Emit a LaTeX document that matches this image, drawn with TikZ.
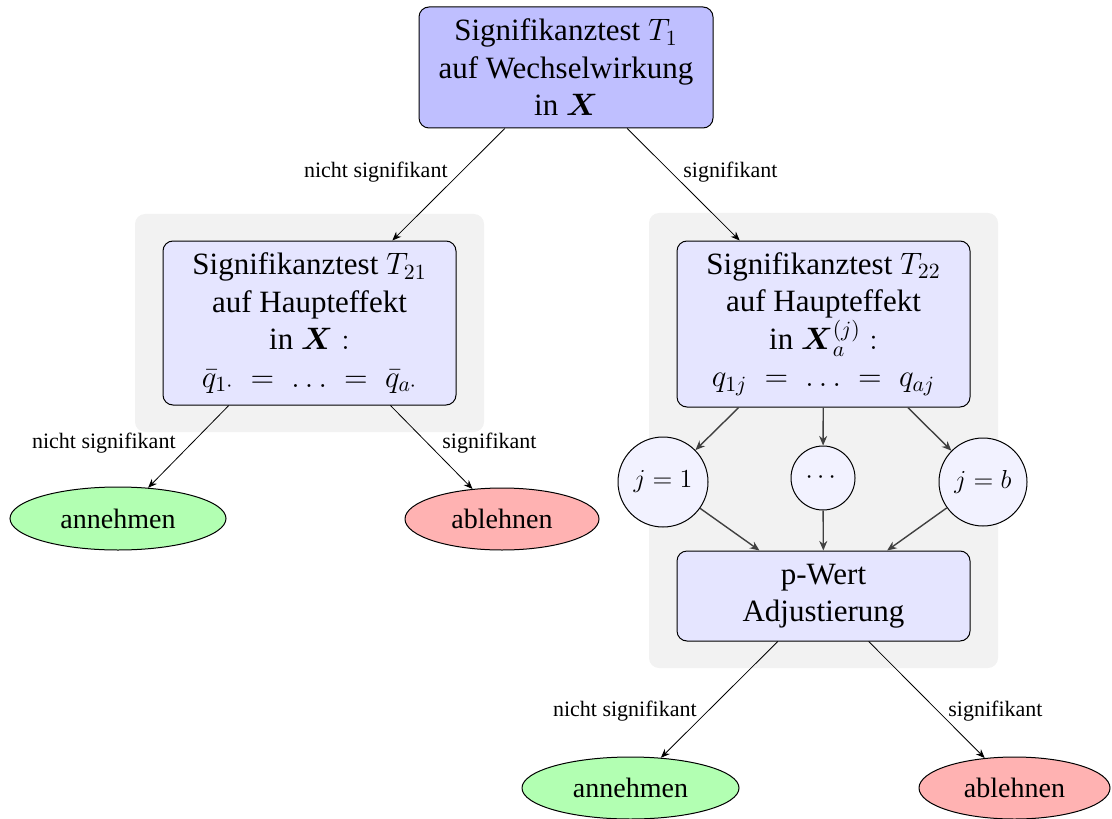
\RequirePackage{fix-cm}
\documentclass[tikz,border=0pt]{standalone}
\usepackage{amsmath}
\usepackage{fontspec}
\setmainfont{Liberation Serif}
\usetikzlibrary{shapes.geometric,arrows.meta}
\newcommand\boxfont{\fontsize{15.5}{18.75}\selectfont}
\newcommand\ellfont{\fontsize{14}{16.8}\selectfont}
\newcommand\circfont{\fontsize{13}{15.6}\selectfont}
\newcommand\labfont{\fontsize{11}{13.2}\selectfont}
\tikzset{
  box/.style={draw, line width=0.5pt, rounded corners=5pt, align=center, inner sep=0pt, font=\boxfont},
  topbox/.style={box, fill=blue!25},
  inbox/.style={box, fill=blue!10},
  bgbox/.style={fill=gray!10, rounded corners=5pt, inner sep=0pt},
  jcirc/.style={circle, draw, line width=0.5pt, fill=blue!5, inner sep=0pt, font=\circfont},
  res/.style={ellipse, draw, line width=0.5pt, inner sep=0pt, font=\ellfont},
  yes/.style={res, fill=green!30},
  no/.style={res, fill=red!30},
  lab/.style={font=\labfont, inner sep=0pt},
  arr/.style={-{Stealth[length=4.5pt,width=3.6pt]}, line width=0.4pt},
  iarr/.style={-{Stealth[length=4.8pt,width=4pt]}, line width=0.7pt, draw=black!75}
}
\begin{document}
\begin{tikzpicture}[x=0.5pt, y=-0.5pt]
\useasboundingbox (0,0) rectangle (1112,818);
% backgrounds
\node[bgbox, minimum width=174.5pt, minimum height=109pt] (bgL) at (309.5,323) {};
\node[bgbox, minimum width=174.5pt, minimum height=227.5pt] (bgR) at (823.5,440.5) {};
% main nodes
\node[topbox, minimum width=147pt, minimum height=60.5pt] (top) at (566,67.5)
  {Signifikanztest $T_1$\\auf Wechselwirkung\\in $\boldsymbol{X}$};
\node[inbox, minimum width=146.5pt, minimum height=82pt] (t21) at (309.5,323)
  {Signifikanztest $T_{21}$\\auf Haupteffekt\\in $\boldsymbol{X}:$\\$\bar{q}_{1\cdot}\;=\;\ldots\;=\;\bar{q}_{a\cdot}$};
\node[inbox, minimum width=146.5pt, minimum height=83pt] (t22) at (823.5,324)
  {Signifikanztest $T_{22}$\\auf Haupteffekt\\in $\boldsymbol{X}_a^{(j)}:$\\$q_{1j}\;=\;\ldots\;=\;q_{aj}$};
\node[jcirc, minimum size=45pt] (c1) at (663,482) {$j=1$};
\node[jcirc, minimum size=32pt] (c2) at (823,478) {$\cdots$};
\node[jcirc, minimum size=44pt] (c3) at (983,482) {$j=b$};
\node[inbox, minimum width=146.5pt, minimum height=45pt] (pw) at (823.5,596)
  {p-Wert\\Adjustierung};
\node[yes, minimum width=108pt, minimum height=31.5pt] (la) at (118,518.5) {annehmen};
\node[no, minimum width=97pt, minimum height=31pt] (lr) at (502,519) {ablehnen};
\node[yes, minimum width=108.5pt, minimum height=31pt] (ba) at (630.5,788) {annehmen};
\node[no, minimum width=95.5pt, minimum height=31pt] (br) at (1014.5,788) {ablehnen};
% connectors
\draw[arr] (top) -- (t21);
\draw[arr] (top) -- (t22);
\draw[arr] (t21) -- (la);
\draw[arr] (t21) -- (lr);
\draw[iarr] (t22) -- (c1);
\draw[iarr] (t22) -- (c2);
\draw[iarr] (t22) -- (c3);
\draw[iarr] (c1) -- (pw);
\draw[iarr] (c2) -- (pw);
\draw[iarr] (c3) -- (pw);
\draw[arr] (pw) -- (ba);
\draw[arr] (pw) -- (br);
% labels
\node[lab, anchor=east] (l1) at (448,172) {nicht signifikant};
\node[lab, anchor=west] (l2) at (683,172) {signifikant};
\node[lab, anchor=east] (l3) at (176,443) {nicht signifikant};
\node[lab, anchor=west] (l4) at (442,443) {signifikant};
\node[lab, anchor=east] (l5) at (697,711) {nicht signifikant};
\node[lab, anchor=west] (l6) at (948,711) {signifikant};
\end{tikzpicture}
\end{document}
